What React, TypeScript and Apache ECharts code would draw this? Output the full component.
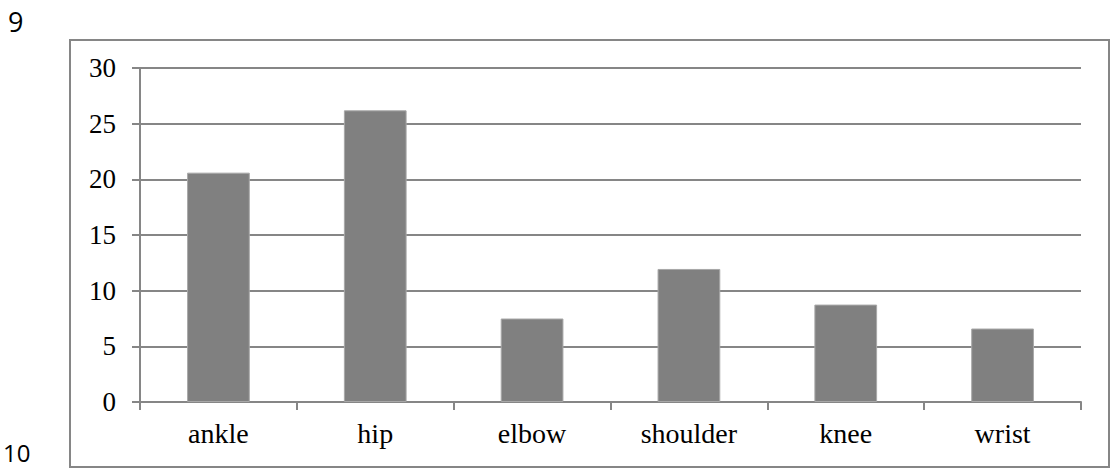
import React, { useEffect, useRef } from "react";
import * as echarts from "echarts";

const categories = ["ankle", "hip", "elbow", "shoulder", "knee", "wrist"];
const values = [20.6, 26.2, 7.5, 11.95, 8.75, 6.6];
const yTicks = { min: 0, max: 30, interval: 5 };
const pageMarks = ["9", "10"];

const SERIF = "'Liberation Serif', 'DejaVu Serif', serif";
const SANS = "'Open Sans', 'Noto Sans', sans-serif";

export default function App() {
  const ref = useRef<HTMLDivElement>(null);
  useEffect(() => {
    if (!ref.current) return;
    const chart = echarts.init(ref.current, undefined, { renderer: "svg" });
    const gray = "#868686";
    chart.setOption({
      animation: false,
      backgroundColor: "#ffffff",
      grid: { left: 140, right: 33, top: 68, bottom: 68, containLabel: false },
      graphic: [
        {
          type: "rect",
          shape: { x: 70, y: 40, width: 1039, height: 427 },
          style: { fill: "none", stroke: gray, lineWidth: 2 },
          silent: true,
        },
        {
          type: "text",
          x: 8,
          y: 8,
          style: { text: pageMarks[0], fontSize: 27, fontFamily: SANS, fill: "#000" },
        },
        {
          type: "text",
          x: 3,
          y: 440,
          style: {
            text: pageMarks[1],
            fontSize: 24,
            fontFamily: SANS,
            fill: "#000",
          },
        },
      ],
      xAxis: {
        type: "category",
        data: categories,
        boundaryGap: true,
        axisLine: { show: true, lineStyle: { color: gray, width: 2 } },
        axisTick: { show: true, length: 8, lineStyle: { color: gray, width: 2 } },
        axisLabel: {
          color: "#000",
          fontFamily: SERIF,
          fontSize: 28,
          margin: 17,
        },
        splitLine: { show: false },
      },
      yAxis: {
        type: "value",
        min: yTicks.min,
        max: yTicks.max,
        interval: yTicks.interval,
        axisLine: { show: true, lineStyle: { color: gray, width: 2 } },
        axisTick: { show: true, length: 8, lineStyle: { color: gray, width: 2 } },
        axisLabel: {
          color: "#000",
          fontFamily: SERIF,
          fontSize: 27,
          margin: 24,
        },
        splitLine: { show: true, lineStyle: { color: gray, width: 2 } },
      },
      series: [
        {
          type: "bar",
          data: values,
          barCategoryGap: "60%",
          itemStyle: { color: "#808080", borderColor: "#a8a8a8", borderWidth: 1 },
        },
      ],
    });
    return () => chart.dispose();
  }, []);
  return (
    <div
      ref={ref}
      style={{ position: "fixed", left: 0, top: 0, width: 1114, height: 470, background: "#fff" }}
    />
  );
}
